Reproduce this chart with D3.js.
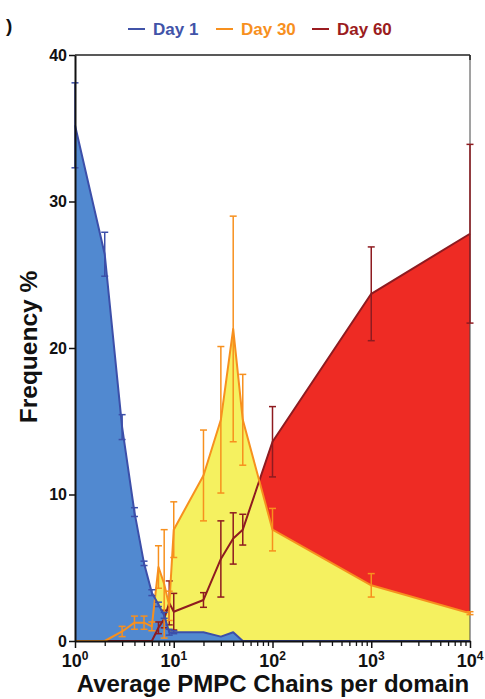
<!DOCTYPE html>
<html>
<head>
<meta charset="utf-8">
<script src="https://cdn.jsdelivr.net/npm/d3@7"></script>
<style>
body { margin: 0; background: #fff; }
text { font-family: "Liberation Sans", Arial, sans-serif; font-weight: bold; }
</style>
</head>
<body>
<script>
var svgWidth = 485;
var svgHeight = 699;

var margin = {top: 55, left: 75};

// x positions (chains per domain)
var chains = [1, 2, 3, 4, 5, 6, 7, 8, 9, 10, 20, 30, 40, 50, 100, 1000, 10000];

var day1 = [35.2, 26.4, 14.6, 8.8, 5.3, 3.3, 2.5, 1.75, 0.6, 0.6, 0.6, 0.3, 0.6, 0, 0, 0, 0];
var day1Err = [2.9, 1.5, 0.85, 0.3, 0.15, 0.2, 0.15, 0.2, 0.2, 0.1, 0, 0, 0, 0, 0, 0, 0];

var day30 = [0, 0, 0.65, 1.25, 1.25, 1.0, 5.05, 3.9, 2.4, 7.6, 11.3, 15.1, 21.3, 15.1, 7.6, 3.8, 1.9];
var day30Err = [0, 0, 0.35, 0.45, 0.45, 0.3, 1.45, 3.7, 1.0, 1.9, 3.1, 5.0, 7.7, 3.1, 1.45, 0.8, 0.1];

var day60 = [0, 0, 0, 0, 0, 0, 0.9, 1.5, 2.6, 2.0, 2.8, 5.6, 7.0, 7.6, 13.6, 23.7, 27.8];
var day60Err = [0, 0, 0, 0, 0, 0, 0.4, 0.6, 1.5, 1.25, 0.5, 2.6, 1.75, 1.05, 2.4, 3.2, 6.1];

var yTicks = [0, 10, 20, 30, 40];
var xExponents = [0, 1, 2, 3, 4];

var series = [
    {name: "Day 60", values: day60, err: day60Err, line: "#8e1b20", fill: "#ee2b24", text: "#9b1c20"},
    {name: "Day 30", values: day30, err: day30Err, line: "#f7901e", fill: "#f5f160", text: "#f7901e"},
    {name: "Day 1", values: day1, err: day1Err, line: "#3c4fa9", fill: "#5189d0", text: "#4153a8"}
];

var svg = d3.select("body").append("svg")
    .attr("width", svgWidth)
    .attr("height", svgHeight);

var x = d3.scaleLog()
    .domain([1, 10000])
    .range([margin.left, margin.left + 395]);

var y = d3.scaleLinear()
    .domain([0, 40])
    .range([641, margin.top]);

// areas first (red, yellow, blue)
series.forEach(function(s) {
    var pts = chains.map(function(c, i) { return {x: c, y: s.values[i], e: s.err[i]}; });
    s.pts = pts;
    svg.append("path")
        .datum(pts)
        .attr("fill", s.fill)
        .attr("d", d3.area()
            .x(function(d) { return x(d.x); })
            .y0(y(0))
            .y1(function(d) { return y(d.y); }));
});

// frame: top and right
svg.append("line")
    .attr("x1", x(1)).attr("x2", x(10000))
    .attr("y1", y(40)).attr("y2", y(40))
    .attr("stroke", "#222").attr("stroke-width", 1.5);
svg.append("line")
    .attr("x1", x(10000)).attr("x2", x(10000))
    .attr("y1", y(40)).attr("y2", y(0))
    .attr("stroke", "#444").attr("stroke-width", 1);
svg.append("line")
    .attr("x1", x(10000)).attr("x2", x(10000))
    .attr("y1", y(40)).attr("y2", y(40) + 5)
    .attr("stroke", "#222").attr("stroke-width", 1.5);

// lines and error bars
series.forEach(function(s) {
    var g = svg.append("g");
    var withErr = s.pts.filter(function(d) { return d.e > 0; });
    g.selectAll("line.err")
        .data(withErr)
        .enter().append("line")
        .attr("class", "err")
        .attr("x1", function(d) { return x(d.x); })
        .attr("x2", function(d) { return x(d.x); })
        .attr("y1", function(d) { return y(Math.max(0, d.y - d.e)); })
        .attr("y2", function(d) { return y(d.y + d.e); })
        .attr("stroke", s.line)
        .attr("stroke-width", 1.5);
    g.selectAll("line.capTop")
        .data(withErr)
        .enter().append("line")
        .attr("class", "capTop")
        .attr("x1", function(d) { return x(d.x) - 3.5; })
        .attr("x2", function(d) { return x(d.x) + 3.5; })
        .attr("y1", function(d) { return y(d.y + d.e); })
        .attr("y2", function(d) { return y(d.y + d.e); })
        .attr("stroke", s.line)
        .attr("stroke-width", 1.5);
    g.selectAll("line.capBot")
        .data(withErr.filter(function(d) { return d.y - d.e > 0; }))
        .enter().append("line")
        .attr("class", "capBot")
        .attr("x1", function(d) { return x(d.x) - 3.5; })
        .attr("x2", function(d) { return x(d.x) + 3.5; })
        .attr("y1", function(d) { return y(d.y - d.e); })
        .attr("y2", function(d) { return y(d.y - d.e); })
        .attr("stroke", s.line)
        .attr("stroke-width", 1.5);
    g.append("path")
        .datum(s.pts)
        .attr("fill", "none")
        .attr("stroke", s.line)
        .attr("stroke-width", 2)
        .attr("stroke-linejoin", "round")
        .attr("d", d3.line()
            .x(function(d) { return x(d.x); })
            .y(function(d) { return y(d.y); }));
});

// y axis
var yAxis = svg.append("g")
    .attr("transform", "translate(" + x(1) + ",0)")
    .call(d3.axisLeft(y).tickValues(yTicks).tickSize(6).tickPadding(2).tickSizeOuter(0));
yAxis.select(".domain").attr("stroke", "#111").attr("stroke-width", 2);
yAxis.selectAll(".tick line").attr("stroke", "#111").attr("stroke-width", 1.5);
yAxis.selectAll(".tick text")
    .attr("font-size", 16)
    .attr("font-family", "Liberation Sans, Arial, sans-serif")
    .attr("font-weight", "bold")
    .attr("fill", "#111");

// x axis: minor ticks
var minor = [];
for (var p = 0; p < 4; p++) {
    for (var k = 2; k <= 9; k++) minor.push(k * Math.pow(10, p));
}
var xMinor = svg.append("g")
    .attr("transform", "translate(0," + y(0) + ")")
    .call(d3.axisBottom(x).tickValues(minor).tickSize(5).tickFormat("").tickSizeOuter(0));
xMinor.select(".domain").remove();
xMinor.selectAll(".tick line").attr("stroke", "#111").attr("stroke-width", 1.3);

var xAxis = svg.append("g")
    .attr("transform", "translate(0," + y(0) + ")")
    .call(d3.axisBottom(x)
        .tickValues(xExponents.map(function(e) { return Math.pow(10, e); }))
        .tickSize(7).tickFormat("").tickSizeOuter(0));
xAxis.select(".domain").attr("stroke", "#111").attr("stroke-width", 2);
xAxis.selectAll(".tick line").attr("stroke", "#111").attr("stroke-width", 1.5);

// x tick labels with superscripts
xExponents.forEach(function(e) {
    var t = svg.append("text")
        .attr("x", x(Math.pow(10, e)))
        .attr("y", 667)
        .attr("text-anchor", "middle")
        .attr("font-size", 18)
        .attr("fill", "#111");
    t.append("tspan").text("10");
    t.append("tspan").attr("font-size", 12).attr("dy", -7).text(e);
});

// axis titles
svg.append("text")
    .attr("x", 273)
    .attr("y", 692)
    .attr("text-anchor", "middle")
    .attr("font-size", 24)
    .attr("fill", "#111")
    .text("Average PMPC Chains per domain");

svg.append("text")
    .attr("transform", "translate(37," + 347 + ") rotate(-90)")
    .attr("text-anchor", "middle")
    .attr("font-size", 24.5)
    .attr("fill", "#111")
    .text("Frequency %");

// panel letter remnant
svg.append("text")
    .attr("x", 6)
    .attr("y", 32)
    .attr("font-size", 19)
    .attr("fill", "#111")
    .text(")");

// legend
var legendItems = [series[2], series[1], series[0]];
var legendX = [128, 216, 312];
legendItems.forEach(function(s, i) {
    svg.append("line")
        .attr("x1", legendX[i]).attr("x2", legendX[i] + 17)
        .attr("y1", 29).attr("y2", 29)
        .attr("stroke", s.text)
        .attr("stroke-width", 2);
    svg.append("text")
        .attr("x", legendX[i] + 25)
        .attr("y", 35)
        .attr("font-size", 17)
        .attr("fill", s.text)
        .text(s.name);
});
</script>
</body>
</html>
